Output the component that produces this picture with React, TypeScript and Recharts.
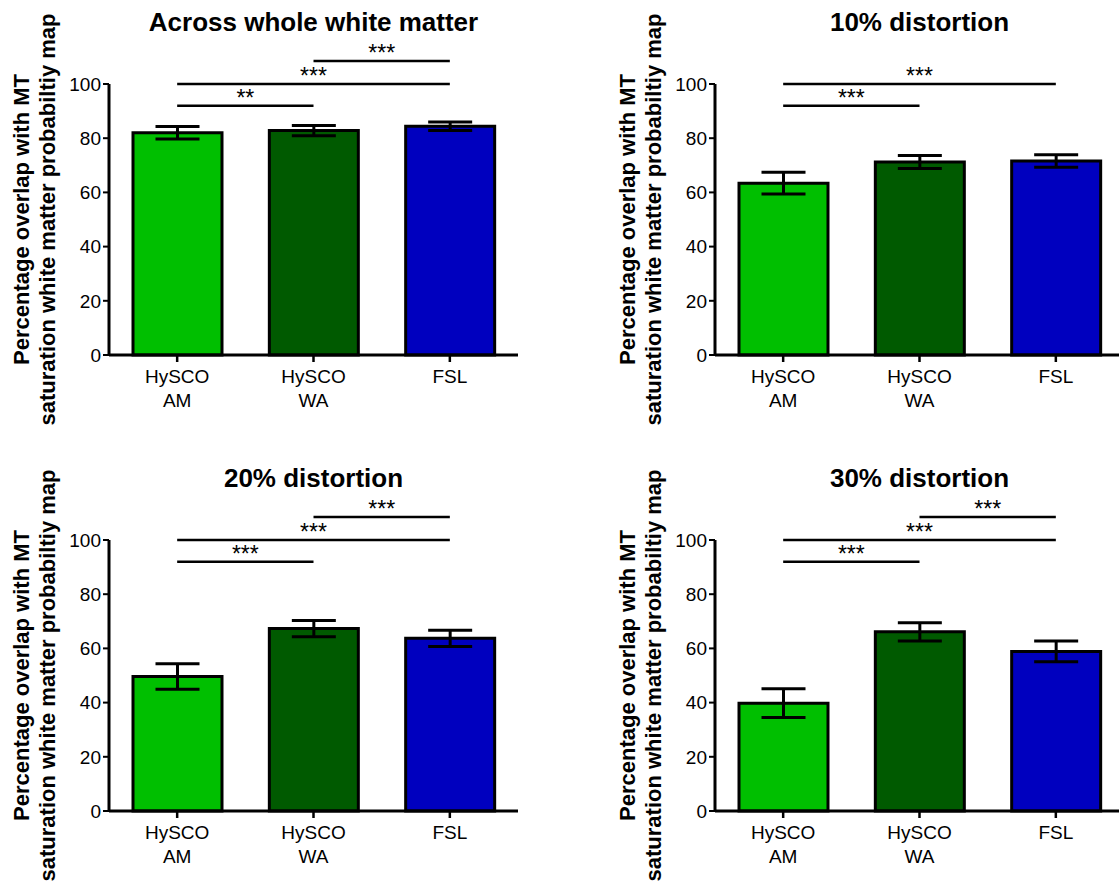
import React from "react";
import {
  BarChart,
  Bar,
  Cell,
  XAxis,
  YAxis,
  ErrorBar,
  ReferenceLine,
} from "recharts";

const FONT = '"Liberation Sans", Arial, Helvetica, sans-serif';

const categories = ["HySCO\nAM", "HySCO\nWA", "FSL"];
const barColors = ["#00BF00", "#005A00", "#0000BF"];
const yTicks = [0, 20, 40, 60, 80, 100];
const yLabelLines = [
  "Percentage overlap with MT",
  "saturation white matter probabiltiy map",
];

const titles = [
  "Across whole white matter",
  "10% distortion",
  "20% distortion",
  "30% distortion",
];

// mean and SEM per method
const wholeMean = [82.0, 82.8, 84.4];
const wholeSem = [2.3, 1.9, 1.6];
const d10Mean = [63.4, 71.2, 71.6];
const d10Sem = [4.0, 2.4, 2.3];
const d20Mean = [49.6, 67.3, 63.7];
const d20Sem = [4.7, 3.0, 3.0];
const d30Mean = [39.8, 66.1, 58.9];
const d30Sem = [5.3, 3.4, 3.8];

// [from index, to index, height, stars]
const wholeSig: [number, number, number, string][] = [
  [0, 1, 92, "**"],
  [0, 2, 100, "***"],
  [1, 2, 108.5, "***"],
];
const d10Sig: [number, number, number, string][] = [
  [0, 1, 92, "***"],
  [0, 2, 100, "***"],
];
const d20Sig: [number, number, number, string][] = [
  [0, 1, 92, "***"],
  [0, 2, 100, "***"],
  [1, 2, 108.5, "***"],
];
const d30Sig: [number, number, number, string][] = [
  [0, 1, 92, "***"],
  [0, 2, 100, "***"],
  [1, 2, 108.5, "***"],
];

const panels = [
  { title: titles[0], mean: wholeMean, sem: wholeSem, sig: wholeSig, left: 0, top: 0 },
  { title: titles[1], mean: d10Mean, sem: d10Sem, sig: d10Sig, left: 606, top: 0 },
  { title: titles[2], mean: d20Mean, sem: d20Sem, sig: d20Sig, left: 0, top: 456 },
  { title: titles[3], mean: d30Mean, sem: d30Sem, sig: d30Sig, left: 606, top: 456 },
];

const W = 560;
const H = 440;
const AXIS_W = 109;
const MARGIN = { top: 84, right: 42, bottom: 0, left: 0 };
const yLabelX = [29, 55];

function CategoryTick(props: any) {
  const { x, y, payload } = props;
  const lines = String(payload.value).split("\n");
  return (
    <text x={x} y={y} textAnchor="middle" fill="#000" fontSize={19} fontFamily={FONT}>
      {lines.map((l, i) => (
        <tspan key={i} x={x} dy={i === 0 ? 19 : 24}>
          {l}
        </tspan>
      ))}
    </text>
  );
}

const renderYLabel = (props: any) => {
  const vb = props.viewBox || { y: MARGIN.top, height: 271 };
  const cy = vb.y + vb.height / 2;
  return (
    <g>
      {yLabelLines.map((line, i) => (
        <text
          key={i}
          x={yLabelX[i]}
          y={cy}
          transform={`rotate(-90, ${yLabelX[i]}, ${cy})`}
          textAnchor="middle"
          fill="#000"
          fontSize={22}
          fontWeight="bold"
          fontFamily={FONT}
        >
          {line}
        </text>
      ))}
    </g>
  );
};

function Panel({ p }: { p: (typeof panels)[number] }) {
  const data = categories.map((name, i) => ({
    name,
    mean: p.mean[i],
    sem: p.sem[i],
  }));
  const plotCenter = AXIS_W + (W - AXIS_W - MARGIN.right) / 2;
  return (
    <div style={{ position: "absolute", left: p.left, top: p.top, width: W, height: H }}>
      <BarChart width={W} height={H} data={data} margin={MARGIN}>
        <XAxis
          dataKey="name"
          height={H - 355}
          interval={0}
          tick={<CategoryTick />}
          tickSize={7}
          axisLine={{ stroke: "#000", strokeWidth: 3 }}
          tickLine={{ stroke: "#000", strokeWidth: 2.5 }}
        />
        <YAxis
          width={AXIS_W}
          domain={[0, 100]}
          ticks={yTicks}
          interval={0}
          tickSize={6}
          tick={{ fill: "#000", fontSize: 19, fontFamily: FONT }}
          axisLine={{ stroke: "#000", strokeWidth: 3 }}
          tickLine={{ stroke: "#000", strokeWidth: 2 }}
          label={renderYLabel}
        />
        <Bar
          dataKey="mean"
          barSize={89}
          stroke="#000"
          strokeWidth={3}
          isAnimationActive={false}
        >
          {data.map((d, i) => (
            <Cell key={d.name} fill={barColors[i]} />
          ))}
          <ErrorBar
            dataKey="sem"
            width={22}
            stroke="#000"
            strokeWidth={3}
            isAnimationActive={false}
          />
        </Bar>
        {p.sig.map(([a, b, y, stars], i) => (
          <ReferenceLine
            key={i}
            segment={[
              { x: categories[a], y },
              { x: categories[b], y },
            ]}
            stroke="#000"
            strokeWidth={2.5}
            ifOverflow="visible"
            label={{
              value: stars,
              position: "top",
              offset: 0,
              fill: "#000",
              fontSize: 23,
              fontFamily: FONT,
            }}
          />
        ))}
      </BarChart>
      <svg
        width={W}
        height={50}
        style={{ position: "absolute", left: 0, top: 0, pointerEvents: "none" }}
      >
        <text
          x={plotCenter}
          y={31}
          textAnchor="middle"
          fill="#000"
          fontSize={26}
          fontWeight="bold"
          fontFamily={FONT}
        >
          {p.title}
        </text>
      </svg>
    </div>
  );
}

export default function App() {
  return (
    <div
      style={{
        position: "absolute",
        left: 0,
        top: 0,
        width: 1119,
        height: 884,
        overflow: "hidden",
        background: "#fff",
      }}
    >
      {panels.map((p) => (
        <Panel key={p.title} p={p} />
      ))}
    </div>
  );
}
